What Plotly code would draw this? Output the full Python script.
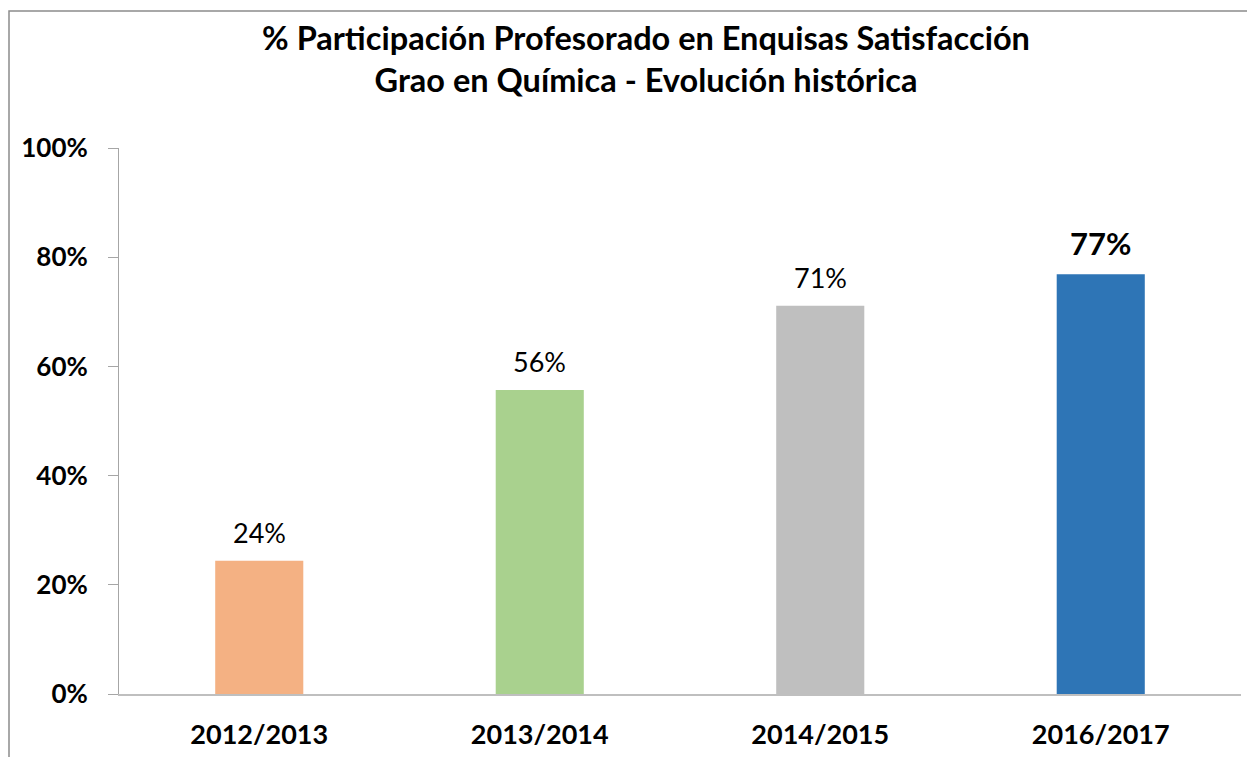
import plotly.graph_objects as go

categories = ["2012/2013", "2013/2014", "2014/2015", "2016/2017"]
values = [0.244, 0.557, 0.711, 0.769]
colors = ["#F4B183", "#A9D18E", "#BFBFBF", "#2E75B6"]
highlight = [False, False, False, True]
title_lines = ["% Participación Profesorado en Enquisas Satisfacción",
               "Grao en Química - Evolución histórica"]

FONT = "Lato"
W, H = 1247, 749  # page body has an 8px margin

fig = go.Figure()
fig.add_trace(go.Bar(
    x=categories, y=values, marker=dict(color=colors, line=dict(width=0)),
    width=0.314, hoverinfo="skip"))

for c, v, h in zip(categories, values, highlight):
    fig.add_annotation(
        x=c, y=v, xref="x", yref="y", yanchor="bottom", yshift=10,
        text=(f"<b>{v:.0%}</b>" if h else f"{v:.0%}"), showarrow=False,
        font=dict(family=FONT, size=31 if h else 27, color="#000000"))

fig.update_layout(
    width=W, height=H,
    margin=dict(l=111, r=14, t=140, b=63, autoexpand=False),
    paper_bgcolor="white", plot_bgcolor="white",
    showlegend=False,
    font=dict(family=FONT, color="#000000"),
    title=dict(text="<b>" + title_lines[0] + "</b><br><b>" + title_lines[1] + "</b>",
               x=638 / W, xanchor="center", xref="container",
               y=1 - 42 / H, yanchor="middle", yref="container",
               font=dict(family=FONT, size=32.5, color="#000000")),
    xaxis=dict(showgrid=False, showline=True, linecolor="#BFBFBF", linewidth=2,
               ticks="", tickfont=dict(family=FONT, size=27, color="#000000", weight="bold"),
               ticklabelstandoff=16, range=[-0.5, 3.5]),
    yaxis=dict(range=[0, 1], dtick=0.2, tickformat=".0%", showgrid=False,
               showline=True, linecolor="#A6A6A6", linewidth=1,
               ticks="outside", ticklen=10, tickcolor="#A6A6A6",
               tickfont=dict(family=FONT, size=26, color="#000000", weight="bold"),
               ticklabelstandoff=15, zeroline=False),
    shapes=[dict(type="rect", xref="paper", yref="paper",
                 x0=(9 - 119) / 1122, x1=1.3, y0=-0.5, y1=(694 - 11) / 546,
                 line=dict(color="#8C8C8C", width=1.5), fillcolor="rgba(0,0,0,0)",
                 layer="below")],
)

fig.write_html("out.html")
